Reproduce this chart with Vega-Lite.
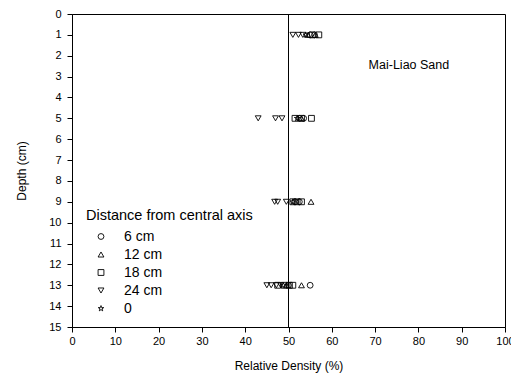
{
  "$schema": "https://vega.github.io/schema/vega-lite/v6.json",
  "width": 433,
  "height": 313,
  "autosize": {"type": "none"},
  "padding": {"left": 72, "top": 14, "right": 6, "bottom": 49},
  "background": "white",
  "config": {
    "font": "Liberation Sans",
    "view": {"stroke": "black", "strokeWidth": 1},
    "axis": {"grid": false, "domainColor": "black", "tickColor": "black", "labelColor": "black", "titleColor": "black", "labelFontSize": 11, "titleFontSize": 12, "titleFontWeight": "normal", "tickSize": 5, "labelFont": "Liberation Sans", "titleFont": "Liberation Sans", "labelOverlap": false, "labelFlush": false}
  },
  "datasets": {
    "points": [
      {"density": 51.0, "depth": 1, "dist": "24 cm"},
      {"density": 52.3, "depth": 1, "dist": "24 cm"},
      {"density": 53.3, "depth": 1, "dist": "24 cm"},
      {"density": 54.5, "depth": 1, "dist": "12 cm"},
      {"density": 56.2, "depth": 1, "dist": "12 cm"},
      {"density": 55.0, "depth": 1, "dist": "6 cm"},
      {"density": 56.0, "depth": 1, "dist": "6 cm"},
      {"density": 55.5, "depth": 1, "dist": "18 cm"},
      {"density": 57.0, "depth": 1, "dist": "18 cm"},
      {"density": 54.0, "depth": 1, "dist": "0"},
      {"density": 43.0, "depth": 5, "dist": "24 cm"},
      {"density": 47.0, "depth": 5, "dist": "24 cm"},
      {"density": 48.5, "depth": 5, "dist": "24 cm"},
      {"density": 51.5, "depth": 5, "dist": "18 cm"},
      {"density": 53.0, "depth": 5, "dist": "18 cm"},
      {"density": 55.3, "depth": 5, "dist": "18 cm"},
      {"density": 52.5, "depth": 5, "dist": "6 cm"},
      {"density": 53.5, "depth": 5, "dist": "6 cm"},
      {"density": 53.0, "depth": 5, "dist": "12 cm"},
      {"density": 52.0, "depth": 5, "dist": "0"},
      {"density": 46.8, "depth": 9, "dist": "24 cm"},
      {"density": 47.5, "depth": 9, "dist": "24 cm"},
      {"density": 49.5, "depth": 9, "dist": "24 cm"},
      {"density": 51.0, "depth": 9, "dist": "18 cm"},
      {"density": 52.0, "depth": 9, "dist": "18 cm"},
      {"density": 53.0, "depth": 9, "dist": "18 cm"},
      {"density": 51.5, "depth": 9, "dist": "6 cm"},
      {"density": 52.5, "depth": 9, "dist": "6 cm"},
      {"density": 55.2, "depth": 9, "dist": "12 cm"},
      {"density": 51.0, "depth": 9, "dist": "0"},
      {"density": 45.0, "depth": 13, "dist": "24 cm"},
      {"density": 46.0, "depth": 13, "dist": "24 cm"},
      {"density": 47.2, "depth": 13, "dist": "24 cm"},
      {"density": 48.2, "depth": 13, "dist": "24 cm"},
      {"density": 47.5, "depth": 13, "dist": "18 cm"},
      {"density": 49.0, "depth": 13, "dist": "18 cm"},
      {"density": 50.2, "depth": 13, "dist": "18 cm"},
      {"density": 51.0, "depth": 13, "dist": "18 cm"},
      {"density": 53.0, "depth": 13, "dist": "12 cm"},
      {"density": 49.5, "depth": 13, "dist": "12 cm"},
      {"density": 55.0, "depth": 13, "dist": "6 cm"},
      {"density": 50.0, "depth": 13, "dist": "6 cm"},
      {"density": 48.8, "depth": 13, "dist": "0"}
    ]
  },
  "layer": [
    {
      "data": {"values": [{"x": 50}]},
      "mark": {"type": "rule", "color": "black", "strokeWidth": 1},
      "encoding": {"x": {"field": "x", "type": "quantitative", "axis": {"title": "Relative Density (%)", "values": [0, 10, 20, 30, 40, 50, 60, 70, 80, 90, 100], "titlePadding": 14, "labelPadding": 3}}}
    },
    {
      "data": {"name": "points"},
      "mark": {"type": "point", "filled": false, "color": "black", "strokeWidth": 0.9, "size": 34, "opacity": 1},
      "encoding": {
        "x": {"field": "density", "type": "quantitative", "scale": {"domain": [0, 100], "nice": false, "zero": false}, "axis": {"title": "Relative Density (%)", "values": [0, 10, 20, 30, 40, 50, 60, 70, 80, 90, 100], "titlePadding": 14, "labelPadding": 3}},
        "y": {"field": "depth", "type": "quantitative", "scale": {"domain": [0, 15], "reverse": true, "nice": false}, "axis": {"title": "Depth (cm)", "values": [0,1,2,3,4,5,6,7,8,9,10,11,12,13,14,15], "titlePadding": 20, "labelPadding": 6}},
        "shape": {
          "field": "dist", "type": "nominal",
          "scale": {"domain": ["6 cm", "12 cm", "18 cm", "24 cm", "0"], "range": ["circle", "triangle-up", "square", "triangle-down", "M0,-1L0.2245,-0.309L0.951,-0.309L0.363,0.118L0.588,0.809L0,0.382L-0.588,0.809L-0.363,0.118L-0.951,-0.309L-0.2245,-0.309Z"]},
          "legend": {"title": "Distance from central axis", "orient": "none", "legendX": 14, "legendY": 195, "titleFontSize": 14.5, "titleFontWeight": "normal", "titleFont": "Liberation Sans", "titleColor": "black", "labelFontSize": 14, "labelFont": "Liberation Sans", "labelColor": "black", "labelOffset": 16, "rowPadding": 4, "symbolSize": 34, "symbolStrokeColor": "black", "symbolStrokeWidth": 0.9, "symbolFillColor": "transparent", "titlePadding": 6, "padding": 0, "symbolOffset": 8}
        }
      }
    },
    {
      "data": {"values": [{"x": 68.5, "y": 2.45, "label": "Mai-Liao Sand"}]},
      "mark": {"type": "text", "align": "left", "baseline": "middle", "fontSize": 12.5, "font": "Liberation Sans", "color": "black"},
      "encoding": {
        "x": {"field": "x", "type": "quantitative", "axis": {"title": "Relative Density (%)", "values": [0, 10, 20, 30, 40, 50, 60, 70, 80, 90, 100], "titlePadding": 14, "labelPadding": 3}},
        "y": {"field": "y", "type": "quantitative", "axis": {"title": "Depth (cm)", "values": [0,1,2,3,4,5,6,7,8,9,10,11,12,13,14,15], "titlePadding": 20, "labelPadding": 6}},
        "text": {"field": "label"}
      }
    }
  ]
}
